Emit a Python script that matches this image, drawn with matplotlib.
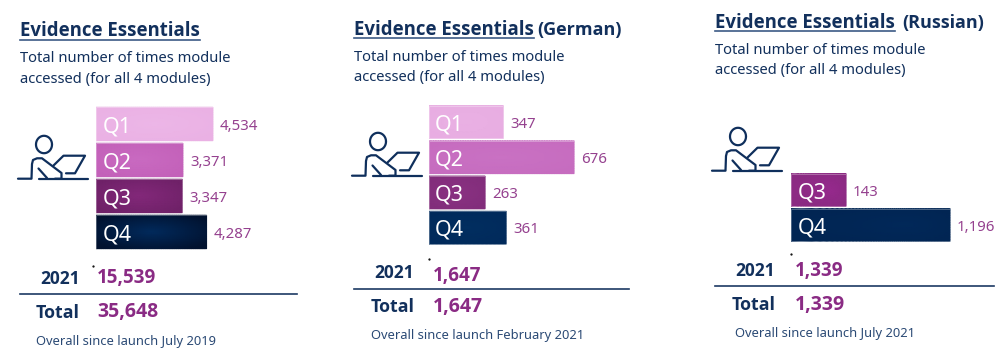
import numpy as np
import matplotlib
matplotlib.use('Agg')
import matplotlib.pyplot as plt
from matplotlib.colors import to_rgb

plt.rcParams['font.family'] = ['Noto Sans', 'DejaVu Sans']
BOLD_FONT = ['Open Sans', 'Lato', 'DejaVu Sans']

W, H = 1001, 358
NAVY = '#12305c'
LABEL = '#95418f'
BOLD_PURPLE = '#8a2b84'

# data
labels_en = ['Q1', 'Q2', 'Q3', 'Q4']
values_en = [4534, 3371, 3347, 4287]
year_en, total_en = '15,539', '35,648'

labels_de = ['Q1', 'Q2', 'Q3', 'Q4']
values_de = [347, 676, 263, 361]
year_de, total_de = '1,647', '1,647'

labels_ru = ['Q3', 'Q4']
values_ru = [143, 1196]
year_ru, total_ru = '1,339', '1,339'

# (inner colour, outer colour) of each bar
COLOURS_EN = [('#ecb6e7', '#eab1e4'), ('#c96ac1', '#c361b9'), ('#83287a', '#6f2168'), ('#012a5c', '#01122f')]
COLOURS_DE = [('#e9b0e3', '#e8ade2'), ('#c971c3', '#c66cbf'), ('#8a3182', '#822d7b'), ('#012e60', '#012a5b')]
COLOURS_RU = [('#96298d', '#8b2a82'), ('#012859', '#012553')]


def px_axes(fig, x, y, w, h):
    # axes placed in pixel coordinates, y measured from the top
    ax = fig.add_axes([x/W, 1 - (y + h)/H, w/W, h/H])
    ax.set_axis_off()
    return ax


def gradient_bar(ax, bar, inner, outer):
    x0, y0 = bar.get_x(), bar.get_y()
    x1, y1 = x0 + bar.get_width(), y0 + bar.get_height()
    xs = np.linspace(0, 1, 60)
    ys = np.linspace(0, 1, 20)
    xx, yy = np.meshgrid(xs, ys)
    d = np.clip(np.hypot((xx - 0.5)*1.6, (yy - 0.5)*1.6), 0, 1)[..., None]
    rgb = np.array(to_rgb(inner))*(1 - d) + np.array(to_rgb(outer))*d
    ax.pcolormesh(x0 + xx*(x1 - x0), y0 + yy*(y1 - y0), rgb, shading='gouraud', zorder=2)


def draw_bars(fig, labels, values, colours, x, top, pitch, xmax, width_px, scale=None):
    n = len(values)
    ax = px_axes(fig, x, top, width_px, pitch*n)
    if scale == 'sqrt':
        ax.set_xscale('function', functions=(np.sqrt, np.square))
    bars = ax.barh(range(n), values, height=0.93, color='none', zorder=3,
                   edgecolor=(1, 1, 1, 0.35), linewidth=0.6)
    for i, (bar, (inner, outer)) in enumerate(zip(bars, colours)):
        gradient_bar(ax, bar, inner, outer)
        ax.annotate(labels[i], (0, i), xytext=(6.5*0.72, 0), textcoords='offset points',
                    color='white', fontsize=15.5, va='center_baseline', ha='left', zorder=4)
        ax.annotate(f'{values[i]:,}', (values[i], i), xytext=(7*0.72, 0), textcoords='offset points',
                    color=LABEL, fontsize=10.8, va='center_baseline', ha='left')
    ax.set_xlim(0, xmax)
    ax.set_ylim(n - 0.5, -0.5)


def draw_icon(ax, dx, dy):
    kw = dict(color='#0f2f5c', lw=1.6, solid_capstyle='round', solid_joinstyle='round', clip_on=False)
    t = np.linspace(0, 2*np.pi, 60)
    ax.plot(44 + dx + 8*np.cos(t), 144.5 + dy + 8.7*np.sin(t), **kw)
    strokes = [
        ([18, 31.5, 32, 33, 37, 42, 61.5, 61.5, 55], [178.7, 178.7, 164, 160, 158.3, 158.3, 173, 178.7, 178.7]),
        ([39, 88], [178.7, 178.7]),
        ([38.5, 47], [168.5, 178]),
        ([53.5, 63.5, 85, 75, 66], [165.5, 155.7, 155.7, 173.3, 173.3]),
    ]
    for xs, ys in strokes:
        ax.plot(np.array(xs) + dx, np.array(ys) + dy, **kw)


def bold(ax, x, y, s, color, size):
    ax.text(x, y, s, color=color, fontsize=size, fontweight='bold', family=BOLD_FONT, va='baseline')


def draw_text(ax, p):
    x = p['x']
    bold(ax, x, p['title_y'], 'Evidence Essentials', NAVY, 13.45)
    ax.plot([x, x + 180], [p['title_y'] + 3]*2, color='#3c5a85', lw=1.2)
    if p['suffix']:
        bold(ax, x + p['suffix_dx'], p['title_y'], p['suffix'], NAVY, 13)
    ax.text(x, p['title_y'] + 26, 'Total number of times module', color=NAVY, fontsize=10.65, va='baseline')
    ax.text(x, p['title_y'] + 46, 'accessed (for all 4 modules)', color=NAVY, fontsize=10.65, va='baseline')
    bold(ax, p['year_x'], p['year_y'], '2021', NAVY, 12.5)
    bold(ax, p['val_x'], p['val_y'], p['year_val'], BOLD_PURPLE, 13.5)
    ax.plot([x, p['rule_x']], [p['rule_y']]*2, color='#1d3a63', lw=1.2)
    bold(ax, p['total_x'], p['total_y'], 'Total', NAVY, 12.8)
    bold(ax, p['val_x'], p['total_y'], p['total_val'], BOLD_PURPLE, 14)
    ax.text(p['foot_x'], p['foot_y'], p['foot'], color='#2b4a75', fontsize=9.3, va='baseline')
    ax.plot([p['dot'][0]], [p['dot'][1]], marker='.', ms=1.2, color='black')


fig = plt.figure(figsize=(W/100, H/100), dpi=100, facecolor='white')
page = fig.add_axes([0, 0, 1, 1])
page.set_xlim(0, W)
page.set_ylim(H, 0)
page.set_axis_off()

panels = [
    dict(x=20, suffix='', suffix_dx=0, title_y=36.5, year_x=40, year_y=283.5, val_x=97, val_y=283.5, year_val=year_en, rule_x=297, rule_y=293.5,
         total_x=36, total_y=317.5, total_val=total_en, foot_x=35.5, foot_y=345.5, foot='Overall since launch July 2019',
         dot=(92.7, 265.7)),
    dict(x=354, suffix='(German)', suffix_dx=183, title_y=35, year_x=374, year_y=278.5, val_x=433, val_y=281, year_val=year_de, rule_x=629, rule_y=289,
         total_x=371, total_y=312, total_val=total_de, foot_x=371, foot_y=339, foot='Overall since launch February 2021',
         dot=(428.5, 258.5)),
    dict(x=715, suffix='(Russian)', suffix_dx=187, title_y=28, year_x=735, year_y=275.5, val_x=795, val_y=276, year_val=year_ru, rule_x=994, rule_y=286,
         total_x=732, total_y=310, total_val=total_ru, foot_x=735, foot_y=337, foot='Overall since launch July 2021',
         dot=(791, 253.5)),
]
for p in panels:
    draw_text(page, p)
draw_icon(page, 0, 0)
draw_icon(page, 334, -3)
draw_icon(page, 694, -8)
page.set_xlim(0, W)
page.set_ylim(H, 0)

draw_bars(fig, labels_en, values_en, COLOURS_EN, 96, 106, 36, 5000, 129)
draw_bars(fig, labels_de, values_de, COLOURS_DE, 428.5, 104.5, 35.2, 800, 172.4)
draw_bars(fig, labels_ru, values_ru, COLOURS_RU, 791, 172.5, 35, 1600, 184, scale='sqrt')

fig.savefig('out.png', dpi=100)
